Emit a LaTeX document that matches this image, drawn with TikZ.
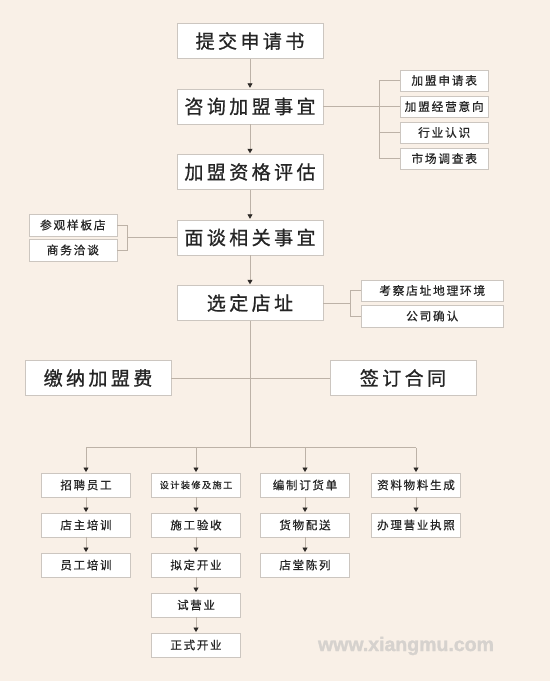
\documentclass[tikz,border=0pt]{standalone}
\usepackage{fontspec}
\setmainfont{Noto Sans CJK SC}
\newfontfamily\bigcjk[LetterSpace=18, FakeBold=0.9]{Noto Sans CJK SC}
\newfontfamily\smallcjk[LetterSpace=15, FakeBold=0.6]{Noto Sans CJK SC}
\newfontfamily\webfont[FakeBold=1.5]{Liberation Sans}
\usetikzlibrary{positioning,arrows.meta}
\definecolor{bgcream}{HTML}{F9F0E7}
\definecolor{boxline}{HTML}{CCC6C0}
\definecolor{linkline}{HTML}{BDB2A7}
\definecolor{tipdark}{HTML}{2E2A27}
\definecolor{txtdark}{HTML}{252525}
\definecolor{markgray}{HTML}{D6D2CE}

\begin{document}
\begin{tikzpicture}[x=1pt, y=1pt, node distance={65.5pt},
    main/.style = {draw=boxline, fill=white, rectangle, minimum width=146pt, minimum height=35pt, inner sep=0pt, text=txtdark, font=\bigcjk\fontsize{19}{19}\selectfont},
    side/.style = {draw=boxline, fill=white, rectangle, minimum width=88pt, minimum height=21.5pt, inner sep=0pt, text=txtdark, font=\smallcjk\fontsize{11.7}{11.7}\selectfont},
    sub/.style = {draw=boxline, fill=white, rectangle, minimum width=89pt, minimum height=23.5pt, inner sep=0pt, text=txtdark, font=\smallcjk\fontsize{11.5}{11.5}\selectfont},
    link/.style = {draw=linkline, line width=0.8pt},
    go/.style = {link, -{Triangle[length=4.5pt, width=5pt, color=tipdark]}, shorten >=1pt}]
    \fill[bgcream] (0,0) rectangle (550,-681);
    \useasboundingbox (0,0) rectangle (550,-681);

    % main steps
    \node[main] (1) at (250,-41) {提交申请书};
    \node[main] (2) [below of=1] {咨询加盟事宜};
    \node[main] (3) [below of=2] {加盟资格评估};
    \node[main] (4) [below of=3] {面谈相关事宜};
    \node[main] (5) [below of=4] {选定店址};
    \node[main] (6) at (98,-378) {缴纳加盟费};
    \node[main] (7) at (403,-378) {签订合同};

    % side notes
    \node[side] (2b) at ([xshift=121pt]2.east) {加盟经营意向};
    \node[side] (2a) [above of=2b, node distance=26pt] {加盟申请表};
    \node[side] (2c) [below of=2b, node distance=26pt] {行业认识};
    \node[side] (2d) [below of=2c, node distance=26pt] {市场调查表};
    \node[side] (4a) at ([shift={(-104pt,12.5pt)}]4.west) {参观样板店};
    \node[side] (4b) [below of=4a, node distance=25pt] {商务洽谈};
    \node[side, minimum width=142pt] (5a) at ([shift={(109pt,12.5pt)}]5.east) {考察店址地理环境};
    \node[side, minimum width=142pt] (5b) [below of=5a, node distance=25.5pt] {公司确认};

    \coordinate (2j) at ([xshift=56pt]2.east);
    \coordinate (4j) at ([xshift=-49pt]4.west);
    \coordinate (5j) at ([xshift=27pt]5.east);
    \coordinate (split) at ([yshift=-127pt]5.south);

    % branches
    \node[sub] (a1) at (86,-485) {招聘员工};
    \node[sub] (a2) [below of=a1, node distance=40pt] {店主培训};
    \node[sub] (a3) [below of=a2, node distance=40pt] {员工培训};
    \node[sub, font=\smallcjk\fontsize{9.2}{9.2}\selectfont] (b1) at (196,-485) {设计装修及施工};
    \node[sub] (b2) [below of=b1, node distance=40pt] {施工验收};
    \node[sub] (b3) [below of=b2, node distance=40pt] {拟定开业};
    \node[sub] (b4) [below of=b3, node distance=40pt] {试营业};
    \node[sub] (b5) [below of=b4, node distance=40pt] {正式开业};
    \node[sub] (c1) at (305,-485) {编制订货单};
    \node[sub] (c2) [below of=c1, node distance=40pt] {货物配送};
    \node[sub] (c3) [below of=c2, node distance=40pt] {店堂陈列};
    \node[sub] (d1) at (416,-485) {资料物料生成};
    \node[sub] (d2) [below of=d1, node distance=40pt] {办理营业执照};

    \node[text=markgray, font=\webfont\bfseries\fontsize{19.5}{19.5}\selectfont] (web) at (406,-646) {www.xiangmu.com};

    \draw[go] (1) -- (2);
    \draw[go] (2) -- (3);
    \draw[go] (3) -- (4);
    \draw[go] (4) -- (5);

    \draw[link] (2) -- (2j);
    \draw[link] (2a.west) -| (2j);
    \draw[link] (2b.west) -- (2j);
    \draw[link] (2c.west) -| (2j);
    \draw[link] (2d.west) -| (2j);
    \draw[link] (4) -- (4j);
    \draw[link] (4a.east) -| (4j);
    \draw[link] (4b.east) -| (4j);
    \draw[link] (5) -- (5j);
    \draw[link] (5a.west) -| (5j);
    \draw[link] (5b.west) -| (5j);

    \draw[link] (6) -- (7);
    \draw[link] (5) -- (split);
    \draw[link] (split -| a1) -- (split -| d1);
    \draw[go] (split -| a1) -- (a1);
    \draw[go] (split -| b1) -- (b1);
    \draw[go] (split -| c1) -- (c1);
    \draw[go] (split -| d1) -- (d1);

    \draw[go] (a1) -- (a2);
    \draw[go] (a2) -- (a3);
    \draw[go] (b1) -- (b2);
    \draw[go] (b2) -- (b3);
    \draw[go] (b3) -- (b4);
    \draw[go] (b4) -- (b5);
    \draw[go] (c1) -- (c2);
    \draw[go] (c2) -- (c3);
    \draw[go] (d1) -- (d2);
\end{tikzpicture}
\end{document}
